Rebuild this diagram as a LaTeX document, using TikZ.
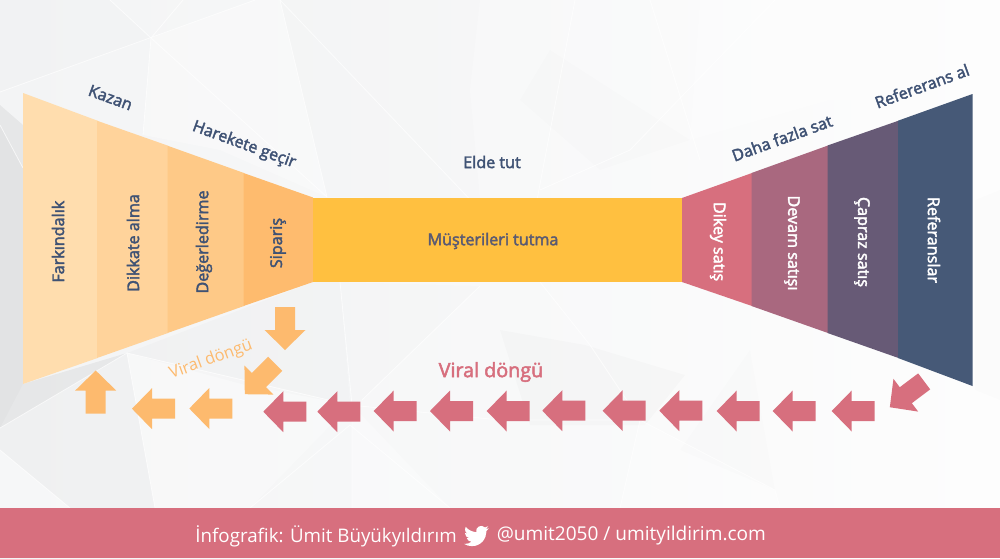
\documentclass[tikz,border=0pt]{standalone}
\usepackage{fontspec}
\setmainfont{Open Sans}
\newfontfamily\lblfont[FakeBold=2.5]{Open Sans}
\definecolor{navy}{HTML}{3F5274}
\definecolor{orangearrow}{HTML}{FDBA6E}
\definecolor{redarrow}{HTML}{D76F7E}
\definecolor{sliceA}{HTML}{FFDDAE}
\definecolor{sliceB}{HTML}{FFD39B}
\definecolor{sliceC}{HTML}{FEC987}
\definecolor{sliceD}{HTML}{FEBB6E}
\definecolor{middle}{HTML}{FFC040}
\definecolor{sliceE}{HTML}{D76F7E}
\definecolor{sliceF}{HTML}{A9687F}
\definecolor{sliceG}{HTML}{675A76}
\definecolor{sliceH}{HTML}{465977}
\definecolor{midtext}{HTML}{5A5A72}
\definecolor{bgL}{HTML}{F3F4F5}
\definecolor{bgM}{HTML}{FAFBFB}
\definecolor{bgR}{HTML}{FDFDFD}
\tikzset{
  bgline/.style={draw=white,line width=0.6pt,opacity=0.7},
  shadeA/.style={fill=black,opacity=0.007},
  shadeB/.style={fill=black,opacity=0.015},
  shadeC/.style={fill=black,opacity=0.05},
  lightA/.style={fill=white,opacity=0.3},
  lbl/.style={font=\lblfont\fontsize{12.1}{14}\selectfont,text=navy,inner sep=0pt},
  lblw/.style={font=\lblfont\fontsize{12.1}{14}\selectfont,text=white,inner sep=0pt},
  flowarrow/.pic={
    \fill[pic actions] (-21.5,0) -- (-1.5,-20.5) -- (-1.5,-10) -- (21.5,-10)
      -- (21.5,10) -- (-1.5,10) -- (-1.5,20.5) -- cycle;
  },
  oarrow/.style={fill=orangearrow},
  rarrow/.style={fill=redarrow}
}
\begin{document}
\begin{tikzpicture}[x=0.75pt,y=-0.75pt]
\useasboundingbox (0,0) rectangle (1000,558);
\clip (0,0) rectangle (1000,558);
% background
\shade[left color=bgL,middle color=bgM,right color=bgR] (0,0) rectangle (1000,558);
\fill[shadeA] (0,0) -- (110,0) -- (151,38) -- (0,92) -- cycle;
\fill[lightA] (151,38) -- (255,0) -- (280,0) -- (327,197) -- (220,150) -- (143,135) -- cycle;
\fill[shadeA] (280,0) -- (480,0) -- (470,90) -- (480,198) -- (327,197) -- cycle;
\fill[shadeA] (550,50) -- (690,140) -- (600,170) -- (520,100) -- cycle;
\fill[lightA] (700,0) -- (1000,0) -- (1000,100) -- (830,100) -- (690,140) -- cycle;
\fill[shadeC] (0,105) -- (23,125) -- (23,384) -- (127,353) -- (0,428) -- cycle;
\fill[shadeB] (0,125) -- (23,168) -- (23,384) -- (0,428) -- cycle;
\fill[shadeB] (127,353) -- (313,282) -- (340,282) -- (350,405) -- (245,385) -- cycle;
\fill[shadeB] (0,428) -- (127,353) -- (155,508) -- (70,508) -- (0,450) -- cycle;
\fill[lightA] (0,450) -- (70,508) -- (0,508) -- cycle;
\fill[lightA] (127,353) -- (350,405) -- (250,508) -- (155,508) -- cycle;
\fill[shadeA] (340,282) -- (480,286) -- (362,400) -- (350,405) -- cycle;
\fill[lightA] (352,405) -- (352,508) -- (450,508) -- cycle;
\fill[shadeB] (500,330) -- (585,345) -- (685,375) -- (645,425) -- (530,425) -- cycle;
\fill[lightA] (640,420) -- (775,490) -- (780,508) -- (620,508) -- cycle;
\fill[shadeA] (750,350) -- (775,490) -- (680,450) -- cycle;
\fill[shadeA] (1000,190) -- (975,200) -- (975,390) -- (1000,400) -- cycle;
\draw[bgline] (0,92) -- (255,0);
\draw[bgline] (110,0) -- (151,38) -- (327,197);
\draw[bgline] (183,0) -- (151,38) -- (143,135);
\draw[bgline] (280,0) -- (327,197);
\draw[bgline] (280,0) -- (480,210);
\draw[bgline] (0,125) -- (23,168);
\draw[bgline] (0,428) -- (127,353) -- (155,508);
\draw[bgline] (127,353) -- (350,405) -- (500,420) -- (640,420);
\draw[bgline] (0,450) -- (70,508);
\draw[bgline] (340,282) -- (352,405) -- (352,508);
\draw[bgline] (480,286) -- (362,400);
\draw[bgline] (250,508) -- (350,425) -- (450,508);
\draw[bgline] (540,282) -- (590,345) -- (640,420);
\draw[bgline] (575,0) -- (537,200);
\draw[bgline] (650,0) -- (700,160);
\draw[bgline] (775,0) -- (630,150) -- (540,190);
\draw[bgline] (620,508) -- (640,420) -- (775,490) -- (780,508);
% funnel
\fill[sliceA] (23,93) -- (97.5,120.7) -- (97.5,358) -- (23,384) -- cycle;
\fill[sliceB] (97,120.7) -- (168,145.7) -- (168,333) -- (97,358) -- cycle;
\fill[sliceC] (167.5,145.7) -- (244,173) -- (244,306) -- (167.5,333) -- cycle;
\fill[sliceD] (243.5,173) -- (313,197.5) -- (313,282) -- (243.5,306) -- cycle;
\fill[middle] (313,198) rectangle (682.5,282);
\fill[sliceE] (682,198) -- (752,173) -- (752,306) -- (682,282) -- cycle;
\fill[sliceF] (751.5,173) -- (828,145.5) -- (828,333) -- (751.5,306) -- cycle;
\fill[sliceG] (827.5,145.5) -- (898.5,120.7) -- (898.5,358) -- (827.5,333) -- cycle;
\fill[sliceH] (898,120.7) -- (972.5,94) -- (972.5,386) -- (898,358) -- cycle;
% labels
\node[lbl,rotate=-20] (kazan) at (110.5,97.5) {Kazan};
\node[lbl,rotate=-20] (harekete) at (244,145) {Harekete geçir};
\node[lbl] (elde) at (492,162) {Elde tut};
\node[lbl,rotate=20] (daha) at (782,138) {Daha fazla sat};
\node[lbl,rotate=20] (refal) at (922,86) {Refererans al};
\node[lbl,rotate=90] (fark) at (58,241.7) {Farkındalık};
\node[lbl,rotate=90] (dikkat) at (133,243) {Dikkate alma};
\node[lbl,rotate=90] (deger) at (204,242) {Değerledirme};
\node[lbl,rotate=90] (siparis) at (278,243) {Sipariş};
\node[lbl,text=midtext] (must) at (493,241) {Müşterileri tutma};
\node[lblw,rotate=-90] (dikey) at (718,241.6) {Dikey satış};
\node[lblw,rotate=-90] (devam) at (792,243) {Devam satışı};
\node[lblw,rotate=-90] (capraz) at (862,242) {Çapraz satış};
\node[lblw,rotate=-90] (ref) at (934,240) {Referanslar};
\node[font=\fontsize{12.3}{14}\selectfont,text=orangearrow,rotate=20,inner sep=0pt] (viralA) at (211,360) {Viral döngü};
\node[font=\lblfont\fontsize{14.8}{17}\selectfont,text=redarrow,inner sep=0pt] (viralB) at (491,372) {Viral döngü};
% orange arrows
\pic[oarrow,rotate=90] at (285,328.5) {flowarrow};
\pic[oarrow,rotate=45] at (260,379) {flowarrow};
\pic[oarrow] at (210.8,408.5) {flowarrow};
\pic[oarrow] at (153.5,408.7) {flowarrow};
\pic[oarrow,rotate=-90] at (95.7,392) {flowarrow};
% red arrows
\pic[rarrow,rotate=37] at (907,394.3) {flowarrow};
\foreach \tx/\ty in {831.7/411,772.7/411,716.7/411,659.3/410.7,602.7/410.7,542.3/410.7,486.7/411,430/411,373.7/411,317.3/411.7,263.3/411.7}
  \pic[rarrow] at (\tx+21.5,\ty) {flowarrow};
% footer
\fill[redarrow] (0,508) rectangle (1000,558);
\node[font=\fontsize{14.05}{16}\selectfont,text=white,inner sep=0pt,anchor=east] (footA) at (457,536) {İnfografik: Ümit Büyükyıldırım};
\node[font=\fontsize{14.3}{16}\selectfont,text=white,inner sep=0pt,anchor=west] (footB) at (496.5,536) {@umit2050 / umityildirim.com};
% bird
\begin{scope}[shift={(464,523.5)},x=0.78pt,y=-0.78pt]
\fill[white] (23.953,4.57) .. controls (23.1,4.95) and (22.1,5.2) .. (21.128,5.345)
 .. controls (22.1,4.75) and (22.9,3.75) .. (23.291,2.622)
 .. controls (22.34,3.177) and (21.286,3.581) .. (20.164,3.806)
 .. controls (18.643,2.18) and (16.21,1.79) .. (14.25,2.84)
 .. controls (12.29,3.89) and (11.275,6.119) .. (11.78,8.288)
 .. controls (7.69,8.095) and (4.067,6.13) .. (1.64,3.162)
 .. controls (1.22,3.9) and (0.974,4.74) .. (0.974,5.637)
 .. controls (0.974,7.347) and (1.844,8.85) .. (3.162,9.733)
 .. controls (2.35,9.7) and (1.6,9.49) .. (0.934,9.117)
 -- (0.934,9.177)
 .. controls (0.934,11.5) and (2.6,13.55) .. (4.88,14.004)
 .. controls (4.2,14.2) and (3.4,14.25) .. (2.668,14.089)
 .. controls (3.3,16.05) and (5.1,17.45) .. (7.272,17.506)
 .. controls (5.6,18.8) and (3.5,19.611) .. (1.17,19.611)
 .. controls (0.78,19.611) and (0.391,19.588) .. (0,19.544)
 .. controls (2.18,20.95) and (4.78,21.753) .. (7.557,21.753)
 .. controls (16.61,21.753) and (21.555,14.257) .. (21.555,7.768)
 .. controls (21.555,7.558) and (21.555,7.348) .. (21.54,7.138)
 .. controls (22.5,6.45) and (23.35,5.55) .. cycle;
\end{scope}
\end{tikzpicture}
\end{document}
